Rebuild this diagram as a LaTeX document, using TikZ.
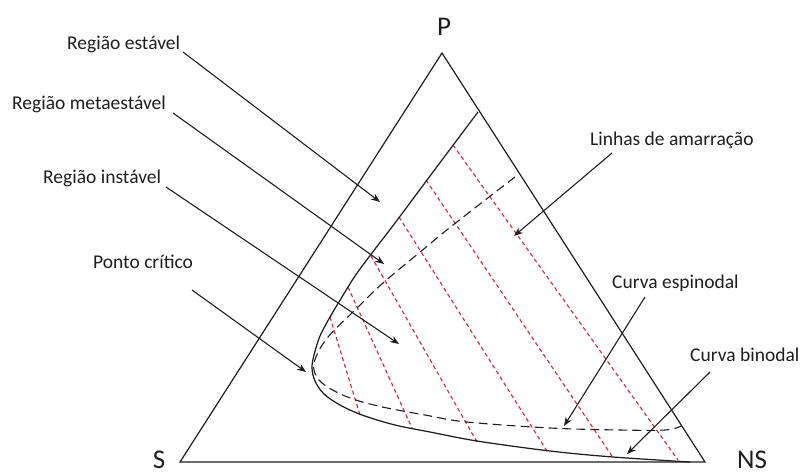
\documentclass[tikz,border=0pt]{standalone}
\usepackage{fontspec}
\setmainfont{Carlito}
\usetikzlibrary{arrows.meta}
\definecolor{tiered}{RGB}{220,40,60}
\definecolor{ink}{RGB}{30,30,30}
\tikzset{
  lbl/.style={inner sep=0pt, anchor=base west, font=\fontsize{19.5}{22}\selectfont, text=ink},
  vtx/.style={inner sep=0pt, anchor=base, font=\fontsize{27}{31}\selectfont, text=ink},
  edge/.style={draw=ink, line width=1.2pt, line join=miter},
  binod/.style={draw=ink, line width=1.25pt},
  spinod/.style={draw=ink, line width=1.1pt, dash pattern=on 9pt off 5pt},
  tie/.style={draw=tiered, line width=1.15pt, dash pattern=on 4pt off 3pt},
  callout/.style={draw=ink, line width=1.1pt, -{Stealth[length=9pt,width=7pt]}}
}
\begin{document}
\begin{tikzpicture}[x=1pt,y=-1pt]
\useasboundingbox (0,0) rectangle (804,474);
% vertices
\coordinate (S) at (180,462);
\coordinate (P) at (442,53);
\coordinate (NS) at (705,462);
\draw[edge] (S) -- (P) -- (NS) -- cycle;
% vertex labels
\node[vtx] (lP) at (444,35) {P};
\node[vtx] (lS) at (159,468) {S};
\node[vtx] (lNS) at (752,468) {NS};
% tie lines
\coordinate (a1) at (453,145); \coordinate (a2) at (678,460);
\coordinate (b1) at (426,180); \coordinate (b2) at (612,456);
\coordinate (c1) at (399,217); \coordinate (c2) at (547,451);
\coordinate (d1) at (371,256); \coordinate (d2) at (477,442);
\coordinate (e1) at (348,287); \coordinate (e2) at (412,428);
\coordinate (f1) at (330,317); \coordinate (f2) at (360,415);
\draw[tie] (a1) -- (a2);
\draw[tie] (b1) -- (b2);
\draw[tie] (c1) -- (c2);
\draw[tie] (d1) -- (d2);
\draw[tie] (e1) -- (e2);
\draw[tie] (f1) -- (f2);
% binodal
\draw[binod] plot[smooth, tension=0.55] coordinates {(478,112) (430,176) (395,223) (372,253) (355,276) (342,297) (330,317) (320,336) (314,355) (312,368) (315,381) (324,394) (340,405) (362,415) (395,425) (430,432) (477,441) (550,451) (613,457) (690,462)};
% spinodal
\draw[spinod] plot[smooth, tension=0.6] coordinates {(515,177) (453,225) (425,248) (383,283) (355,310) (328,337) (316,357) (314,370) (322,383) (345,396) (378,406) (425,415) (467,422) (550,428) (620,430) (665,430) (681,426)};
% labels
\node[lbl] (t1) at (67,49) {Região estável};
\node[lbl] (t2) at (12,109) {Região metaestável};
\node[lbl] (t3) at (43,183) {Região instável};
\node[lbl] (t4) at (93,268) {Ponto crítico};
\node[lbl] (t5) at (590,145) {Linhas de amarração};
\node[lbl] (t6) at (612,288) {Curva espinodal};
\node[lbl] (t7) at (690,361) {Curva binodal};
% callout ends
\coordinate (s1) at (183,52);  \coordinate (g1) at (380,202);
\coordinate (s2) at (173,113); \coordinate (g2) at (384,264);
\coordinate (s3) at (166,187); \coordinate (g3) at (399,344);
\coordinate (s4) at (192,290); \coordinate (g4) at (306,372);
\coordinate (s5) at (612,153); \coordinate (g5) at (514,236);
\coordinate (s6) at (645,297); \coordinate (g6) at (564,426);
\coordinate (s7) at (710,372); \coordinate (g7) at (627,454);
\draw[callout] (s1) -- (g1);
\draw[callout] (s2) -- (g2);
\draw[callout] (s3) -- (g3);
\draw[callout] (s4) -- (g4);
\draw[callout] (s5) -- (g5);
\draw[callout] (s6) -- (g6);
\draw[callout] (s7) -- (g7);
\end{tikzpicture}
\end{document}
